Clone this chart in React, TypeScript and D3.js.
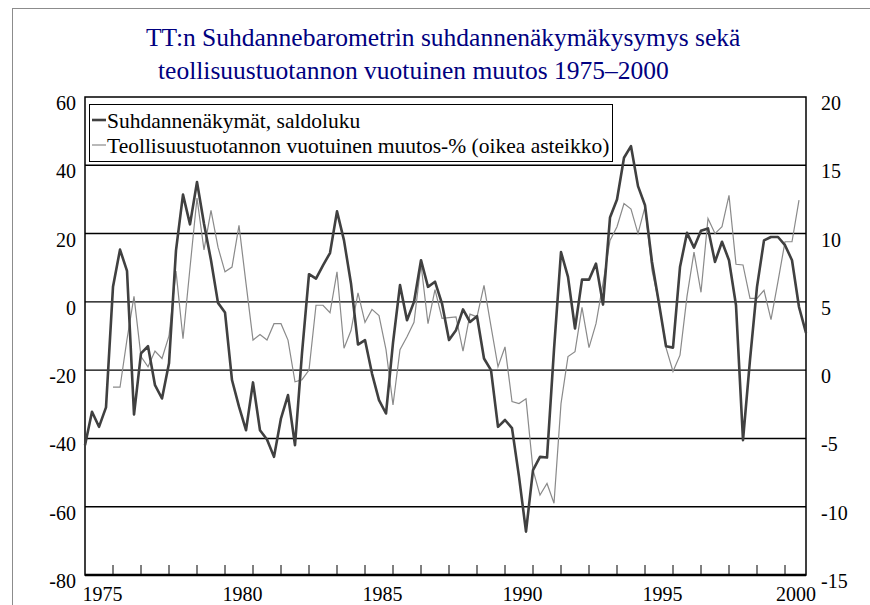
import React, { useEffect, useRef } from 'react';
import * as d3 from 'd3';

// quarterly, 1975Q1 - 2000Q4
const startYear = 1975;
const quarters: string[] = d3.range(104).map((i) => (startYear + Math.floor(i / 4)) + "Q" + (i % 4 + 1));

// Suhdannenäkymät, saldoluku (left axis)
const outlook: number[] = [
  -42, -32.2, -36.6, -30.9, 4.4, 15.3, 9.1, -33, -15.1, -13, -24.4, -28.3,
  -18, 15.1, 31.4, 22.7, 35.1, 22.9, 12.2, -0.3, -3.1, -22.9, -30.7, -37.6,
  -23.6, -37.6, -40.3, -45.4, -34.1, -27.3, -42, -15, 8.1, 6.8, 10.7, 14.3,
  26.5, 18, 5.4, -12.5, -11.2, -21, -28.8, -32.7, -12, 4.9, -5.4, 0,
  12.2, 4.4, 5.9, -0.5, -11.2, -8.3, -2.2, -5.9, -4.2, -16.6, -20, -36.6,
  -34.6, -37, -51.2, -67.3, -49.3, -45.4, -45.6, -14, 14.6, 7.3, -7.8, 6.5,
  6.5, 11.2, -0.8, 24.7, 30, 42.2, 45.6, 33.9, 28.3, 11.7, -0.5, -13,
  -13.4, 10.2, 20.2, 15.9, 20.8, 21.5, 11.7, 17.6, 12.2, -1, -40.5, -17,
  4.4, 18, 19, 19, 16.6, 12.2, -1.5, -9.1,
];

// Teollisuustuotannon vuotuinen muutos-% (right axis)
const production: (number | null)[] = [
  null, null, null, null, -1.25, -1.25, 2.25, 5.4, 1.0, 0.25, 1.4, 0.85,
  2.5, 7.25, 2.3, 7.5, 12.6, 8.8, 11.7, 9.0, 7.2, 7.55, 10.6, 6.35,
  2.2, 2.6, 2.2, 3.4, 3.4, 2.2, -0.85, -0.7, 0, 4.75, 4.75, 4.2,
  7.2, 1.6, 2.9, 5.65, 3.5, 4.45, 4.0, 1.5, -2.55, 1.5, 2.45, 3.5,
  7.75, 3.4, 5.9, 3.8, 3.85, 3.9, 1.4, 4.1, 3.9, 6.2, 3.2, 0.25,
  1.7, -2.3, -2.45, -2.1, -7.3, -9.15, -8.3, -9.75, -2.45, 1.0, 1.35, 4.6,
  1.65, 3.4, 6.35, 9.5, 10.5, 12.2, 11.8, 10, 11.95, 7.3, 4.9, 1.65,
  -0.1, 1.1, 5.4, 8.65, 5.7, 11.1, 10, 10.5, 12.8, 7.75, 7.7, 5.25,
  5.25, 5.85, 3.7, 6.5, 9.4, 9.4, 12.45, null,
];

const leftTicks = [60, 40, 20, 0, -20, -40, -60, -80];
const rightTicks = [20, 15, 10, 5, 0, -5, -10, -15];
const yearLabels = [1975, 1980, 1985, 1990, 1995, 2000];

const titleLines = [
  "TT:n Suhdannebarometrin suhdannenäkymäkysymys sekä",
  "teollisuustuotannon vuotuinen muutos 1975\u20132000",
];
const legendLabels = [
  "Suhdannenäkymät, saldoluku",
  "Teollisuustuotannon vuotuinen muutos-% (oikea asteikko)",
];

const font = '"Liberation Serif", "Times New Roman", "DejaVu Serif", serif';

export default function App() {
  const ref = useRef<SVGSVGElement>(null);

  useEffect(() => {
    document.body.style.margin = "0";
    const svg = d3.select(ref.current);
    svg.selectAll("*").remove();

    const left = 85, right = 806, top = 97, bottom = 575;

    const x = d3.scaleLinear().domain([0, quarters.length - 1]).range([left, right]);
    const yL = d3.scaleLinear().domain([-80, 60]).range([bottom, top]);
    const yR = d3.scaleLinear().domain([-15, 20]).range([bottom, top]);

    // outer chart border (only top/left visible)
    svg.append("rect")
      .attr("x", 12.5).attr("y", 8.5)
      .attr("width", 1000).attr("height", 1000)
      .attr("fill", "none").attr("stroke", "#8c8c8c").attr("stroke-width", 1);

    // title, second row starts a bit right of the first
    svg.selectAll(".title")
      .data(titleLines)
      .enter().append("text")
      .attr("class", "title")
      .attr("x", (d, i) => i == 0 ? 146 : 158)
      .attr("y", (d, i) => 46 + i * 33)
      .attr("text-anchor", "start")
      .style("font-family", font)
      .style("font-size", "25.5px")
      .attr("fill", "#000080")
      .text((d) => d);

    // gridlines
    svg.selectAll(".grid")
      .data(leftTicks.slice(1, -1))
      .enter().append("line")
      .attr("class", "grid")
      .attr("x1", left).attr("x2", right)
      .attr("y1", (d) => yL(d)).attr("y2", (d) => yL(d))
      .attr("stroke", "#000").attr("stroke-width", 1.4);

    // plot frame
    svg.append("rect")
      .attr("x", left).attr("y", top)
      .attr("width", right - left).attr("height", bottom - top)
      .attr("fill", "none").attr("stroke", "#000").attr("stroke-width", 1.5);
    svg.append("line")
      .attr("x1", left).attr("x2", right)
      .attr("y1", bottom).attr("y2", bottom)
      .attr("stroke", "#000").attr("stroke-width", 2.5);

    // x ticks, one per year
    svg.selectAll(".xtick")
      .data(d3.range(4, quarters.length, 4))
      .enter().append("line")
      .attr("class", "xtick")
      .attr("x1", (d) => x(d)).attr("x2", (d) => x(d))
      .attr("y1", bottom).attr("y2", bottom - 10)
      .attr("stroke", "#000").attr("stroke-width", 1);

    svg.selectAll(".xlab")
      .data(yearLabels)
      .enter().append("text")
      .attr("class", "xlab")
      .attr("x", (d) => Math.min(x((d - startYear) * 4 + 2.5), 796))
      .attr("y", 601)
      .attr("text-anchor", "middle")
      .style("font-family", font).style("font-size", "20px")
      .text((d) => d);

    svg.selectAll(".ylab")
      .data(leftTicks)
      .enter().append("text")
      .attr("class", "ylab")
      .attr("x", 76)
      .attr("y", (d) => yL(d) + 6)
      .attr("dy", "0.35em")
      .attr("text-anchor", "end")
      .style("font-family", font).style("font-size", "20px")
      .text((d) => d);

    svg.selectAll(".rlab")
      .data(rightTicks)
      .enter().append("text")
      .attr("class", "rlab")
      .attr("x", 821)
      .attr("y", (d) => yR(d) + 6)
      .attr("dy", "0.35em")
      .attr("text-anchor", "start")
      .style("font-family", font).style("font-size", "20px")
      .text((d) => d);

    // series
    const lineR = d3.line<number | null>()
      .defined((d) => d != null)
      .x((d, i) => x(i))
      .y((d) => yR(d as number));
    const lineL = d3.line<number>()
      .x((d, i) => x(i))
      .y((d) => yL(d));

    svg.append("path")
      .attr("d", lineR(production))
      .attr("fill", "none").attr("stroke", "#8a8a8a").attr("stroke-width", 1.2);
    svg.append("path")
      .attr("d", lineL(outlook))
      .attr("fill", "none").attr("stroke", "#404040").attr("stroke-width", 2.6)
      .attr("stroke-linejoin", "round");

    // legend
    const lg = svg.append("g");
    lg.append("rect")
      .attr("x", 89.5).attr("y", 104.5)
      .attr("width", 523).attr("height", 57)
      .attr("fill", "#fff").attr("stroke", "#000").attr("stroke-width", 1);
    const items = lg.selectAll(".item").data(legendLabels).enter().append("g").attr("class", "item");
    items.append("line")
      .attr("x1", 92).attr("x2", 106)
      .attr("y1", (d, i) => 120 + i * 25).attr("y2", (d, i) => 120 + i * 25)
      .attr("stroke", (d, i) => i == 0 ? "#404040" : "#8a8a8a")
      .attr("stroke-width", (d, i) => i == 0 ? 2.6 : 1.2);
    items.append("text")
      .attr("x", 107)
      .attr("y", (d, i) => 120 + i * 25)
      .attr("dy", "0.35em")
      .style("font-family", font).style("font-size", "21.5px")
      .text((d) => d);
  }, []);

  return <svg ref={ref} width={870} height={605} style={{ display: "block", background: "#fff" }} />;
}
